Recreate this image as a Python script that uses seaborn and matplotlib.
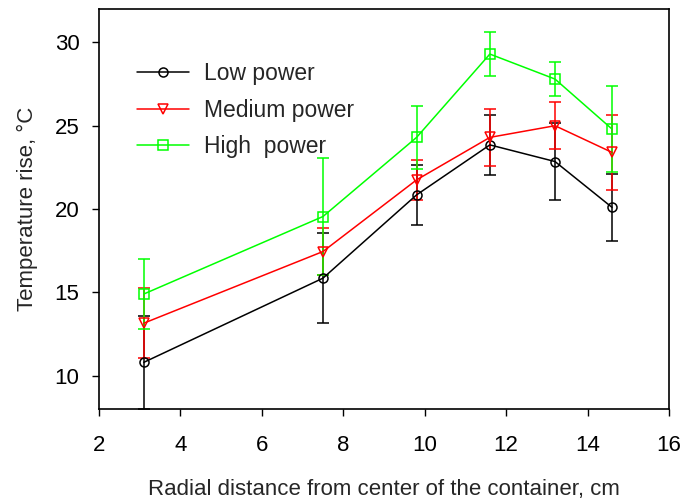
import numpy as np
import pandas as pd
import matplotlib
matplotlib.use("Agg")
import matplotlib.pyplot as plt
import seaborn as sns

x = [3.1, 7.5, 9.8, 11.6, 13.2, 14.6]
low = [10.8, 15.85, 20.85, 23.85, 22.85, 20.1]
low_err = [2.8, 2.7, 1.8, 1.8, 2.3, 2.0]
medium = [13.15, 17.45, 21.75, 24.3, 25.0, 23.4]
medium_err = [2.1, 1.4, 1.2, 1.7, 1.4, 2.25]
high = [14.9, 19.55, 24.3, 29.3, 27.8, 24.8]
high_err = [2.1, 3.5, 1.9, 1.3, 1.0, 2.6]
series = ["Low power", "Medium power", "High  power"]

sns.set_style("white")
plt.rcParams["font.family"] = ["Liberation Sans", "DejaVu Sans"]

fig = plt.figure(figsize=(6.81, 5.04), dpi=100)
ax = fig.add_axes([0.1454, 0.1885, 0.837, 0.7935])

colors = ["#000000", "#ff0000", "#00ff00"]
markers = ["o", "v", "s"]
vals = [low, medium, high]
errs = [low_err, medium_err, high_err]

df = pd.DataFrame({
    "x": x * 3,
    "y": low + medium + high,
    "series": [s for s in series for _ in x],
})

sns.lineplot(data=df, x="x", y="y", hue="series", style="series",
             palette=dict(zip(series, colors)),
             markers=dict(zip(series, markers)), dashes=False,
             markersize=6.5, markeredgewidth=1.1,
             linewidth=1.1, ax=ax, zorder=5)
data_lines = list(ax.lines[:3])
for i, line in enumerate(data_lines):
    line.set_markeredgecolor(colors[i])
    line.set_markerfacecolor("none")
    line.set_zorder(10)

for i, s in enumerate(series):
    ax.errorbar(x, vals[i], yerr=errs[i], fmt="none", ecolor=colors[i],
                elinewidth=1.1, capsize=4.5, capthick=1.1, zorder=2 + i)

ax.set_xlim(2, 16)
ax.set_ylim(8, 32)
ax.set_xticks([2, 4, 6, 8, 10, 12, 14, 16])
ax.set_yticks([10, 15, 20, 25, 30])
ax.tick_params(axis="both", which="both", direction="out", length=5,
               width=1, labelsize=16, bottom=True, left=True, colors="black")
ax.tick_params(axis="x", pad=14)
ax.tick_params(axis="y", pad=9)
for sp in ax.spines.values():
    sp.set_color("black")
    sp.set_linewidth(1.2)

ax.set_xlabel("Radial distance from center of the container, cm", fontsize=16, labelpad=16)
ax.set_ylabel("Temperature rise, °C", fontsize=16, labelpad=12)

handles, labels = ax.get_legend_handles_labels()
for i, h in enumerate(handles):
    h.set_markerfacecolor("none")
    h.set_markeredgecolor(colors[i])
ax.legend(handles, labels, loc="upper left", bbox_to_anchor=(0.031, 0.918),
          frameon=False, fontsize=16.5, handlelength=2.25, handletextpad=0.66,
          labelspacing=0.58, markerscale=1.0)

fig.savefig("out.png", dpi=100)
